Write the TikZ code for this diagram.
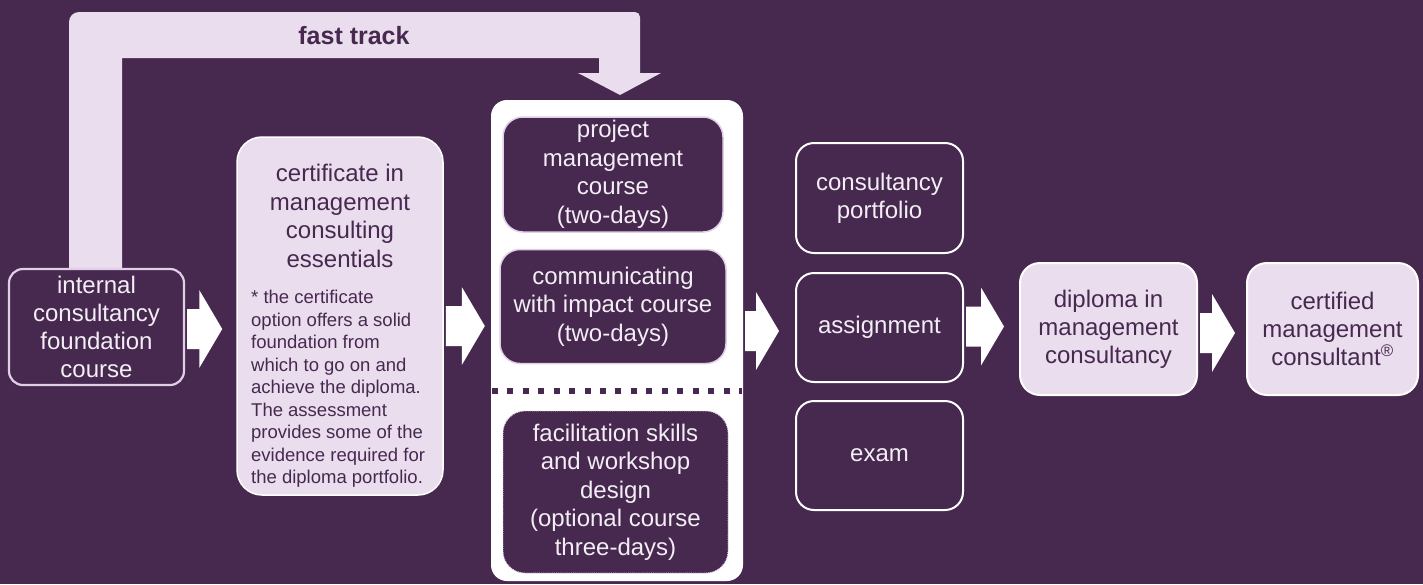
\documentclass[tikz,border=0pt]{standalone}
\usepackage{fontspec}
\setmainfont{Liberation Sans}
\usetikzlibrary{calc}
\definecolor{bg}{HTML}{472950}
\definecolor{lav}{HTML}{EADDEE}
\definecolor{lavline}{HTML}{E0CFE6}
\definecolor{boxtext}{HTML}{F3EEF5}
\tikzset{
  arrowfill/.style={fill=white},
  darkbox/.style={draw=white, line width=2pt, fill=bg, rounded corners=18pt, text=boxtext,
     font=\fontsize{24}{28}\selectfont, align=center, inner sep=0pt},
  lightbox/.style={draw=white, line width=2pt, fill=lav, rounded corners=20pt, text=bg,
     font=\fontsize{24}{28}\selectfont, align=center, inner sep=0pt},
  coursebox/.style={draw=lavline, line width=1.5pt, fill=bg, rounded corners=20pt, text=boxtext,
     font=\fontsize{24}{28.5}\selectfont, align=center, inner sep=0pt},
}
\newcommand{\blockarr}[4]{%
  \fill[arrowfill] ($(#1.east|-0,#3)+(2,-20)$) -- ($(#2.west|-0,#3)+(-#4-23,-20)$) -- ++(0,-19)
    -- ($(#2.west|-0,#3)+(-#4,0)$) -- ($(#2.west|-0,#3)+(-#4-23,39)$) -- ++(0,-19)
    -- ($(#1.east|-0,#3)+(2,20)$) -- cycle;}
\begin{document}
\begin{tikzpicture}[x=1pt,y=-1pt]
\useasboundingbox (0,0) rectangle (1423,584);
\fill[bg] (0,0) rectangle (1423,584);
% fast track arrow
\fill[lav] (69,269) [rounded corners=10pt]-- (69,12) [rounded corners=5pt]-- (640,12) [sharp corners]-- (640,73) -- (661,73)
  -- (620,95) -- (578,73) -- (599,73) -- (599,58) -- (122,58) -- (122,269) -- cycle;
\node[font=\fontsize{25}{28}\selectfont\bfseries, text=bg] (ft) at (354,36) {fast track};
% internal consultancy foundation course
\node[draw=lavline, line width=2.2pt, fill=bg, rounded corners=14pt, text=boxtext,
      font=\fontsize{24}{28}\selectfont, align=center, inner sep=0pt,
      minimum width=175pt, minimum height=116pt] (int) at (96.5,327)
  {internal\\consultancy\\foundation\\course};
% certificate
\node[lightbox, line width=1.5pt, rounded corners=25pt, minimum width=206pt, minimum height=358pt] (cert) at (340,316) {};
\node[text=bg, font=\fontsize{24}{28.5}\selectfont, align=center] (certt) at (340,216)
  {certificate in\\management\\consulting\\essentials};
\node[text=bg, font=\fontsize{18.5}{22.5}\selectfont, align=left, anchor=north west, inner sep=0pt] (certb) at (251,290)
  {* the certificate\\option offers a solid\\foundation from\\which to go on and\\achieve the diploma.\\The assessment\\provides some of the\\evidence required for\\the diploma portfolio.};
% white container
\node[fill=white, rounded corners=16pt, minimum width=252pt, minimum height=481pt, inner sep=0pt] (wbox) at (617,340.5) {};
\node[coursebox, minimum width=220pt, minimum height=115pt] (proj) at (613,174.5)
  {project\\management\\course\\(two-days)};
\node[coursebox, minimum width=226pt, minimum height=114pt] (comm) at (613,306.5)
  {communicating\\with impact course\\(two-days)};
\draw[bg, line width=6pt, dash pattern=on 6pt off 9.45pt] ($(wbox.west|-0,391)+(1,0)$) coordinate (dl) -- ($(wbox.east|-0,391)+(-1,0)$) coordinate (dr);
\node[coursebox, draw=lavline, line width=0.9pt, densely dotted, rounded corners=22pt, minimum width=225pt, minimum height=162pt] (fac) at (615.5,492)
  {facilitation skills\\and workshop\\design\\(optional course\\three-days)};
% right column
\node[darkbox, minimum width=167pt, minimum height=110pt] (port) at (879.5,198) {consultancy\\portfolio};
\node[darkbox, minimum width=167pt, minimum height=109pt] (asg) at (879.5,327.5) {assignment};
\node[darkbox, minimum width=167pt, minimum height=109pt] (exam) at (879.5,455.5) {exam};
% diploma and certified
\node[lightbox, minimum width=177pt, minimum height=132pt] (dip) at (1108.5,329) {diploma in\\management\\consultancy};
\node[lightbox, minimum width=171pt, minimum height=132pt] (cmc) at (1332.5,329) {certified\\management\\consultant\textsuperscript{®}};
% block arrows
\blockarr{int}{cert}{329}{14}
\blockarr{cert}{wbox}{326}{6}
\blockarr{wbox}{asg}{331}{16}
\blockarr{asg}{dip}{326.5}{15}
\blockarr{dip}{cmc}{333}{11}
\end{tikzpicture}
\end{document}
